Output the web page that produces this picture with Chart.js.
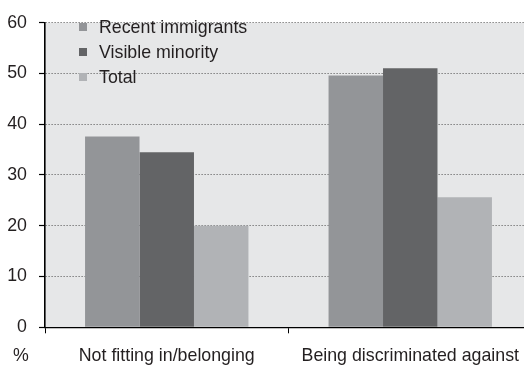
<!DOCTYPE html>
<html>
<head>
<meta charset="utf-8">
<script src="https://cdn.jsdelivr.net/npm/chart.js@4"></script>
<style>
	html, body { margin: 0; padding: 0; background: #fff; overflow: hidden; }
	canvas { display: block; }
</style>
</head>
<body>
<canvas id="chart" width="532" height="366"></canvas>
<script>
const categories = [ 'Not fitting in/belonging', 'Being discriminated against' ];
const recentImmigrants = [ 37.6, 49.6 ];
const visibleMinority = [ 34.5, 51.0 ];
const total = [ 20.0, 25.6 ];
const yTicks = [ 0, 10, 20, 30, 40, 50, 60 ];

const ink = '#231f20';
const fontFamily = '"Liberation Sans", Arial, sans-serif';
const fontSize = 17.8;

// light grey panel behind the bars
const plotBackground = {
	id: 'plotBackground',
	beforeDraw( chart ) {
		const { ctx, chartArea } = chart;
		ctx.save();
		ctx.fillStyle = '#e6e7e8';
		ctx.fillRect( chartArea.left, chartArea.top, chartArea.right - chartArea.left, chartArea.bottom - chartArea.top );
		ctx.restore();
	},
};

// legend sits inside the plot, top left; "%" unit goes under the y labels
const insideLegend = {
	id: 'insideLegend',
	afterDraw( chart ) {
		const { ctx } = chart;
		ctx.save();
		ctx.font = fontSize + 'px ' + fontFamily;
		ctx.textBaseline = 'middle';
		ctx.textAlign = 'left';
		chart.data.datasets.forEach( ( ds, i ) => {
			const y = 27 + i * 25;
			ctx.fillStyle = ds.backgroundColor;
			ctx.fillRect( 79, y - 4, 8, 8 );
			ctx.fillStyle = ink;
			ctx.fillText( ds.label, 99, y + 1 );
		} );
		ctx.textAlign = 'center';
		ctx.fillText( '%', 21, 356 );
		ctx.restore();
	},
};

new Chart( document.getElementById( 'chart' ).getContext( '2d' ), {
	type: 'bar',
	data: {
		labels: categories,
		datasets: [
			{ label: 'Recent immigrants', data: recentImmigrants, backgroundColor: '#939598' },
			{ label: 'Visible minority', data: visibleMinority, backgroundColor: '#636466' },
			{ label: 'Total', data: total, backgroundColor: '#b1b3b6' },
		],
	},
	options: {
		responsive: false,
		animation: false,
		layout: { padding: { top: 12.7, left: 0, right: 0, bottom: 0 } },
		datasets: {
			bar: { barPercentage: 1, categoryPercentage: 0.671, borderWidth: 0 },
		},
		plugins: {
			legend: { display: false },
			tooltip: { enabled: false },
		},
		scales: {
			x: {
				offset: true,
				grid: {
					offset: true,
					drawOnChartArea: false,
					drawTicks: true,
					tickLength: 6,
					tickColor: '#000',
					tickWidth: 1,
				},
				border: { display: true, color: '#000', width: 1.2 },
				ticks: {
					color: ink,
					padding: 12,
					maxRotation: 0,
					autoSkip: false,
					font: { family: fontFamily, size: fontSize },
				},
				afterFit( scale ) {
					scale.height = 38.7;
				},
			},
			y: {
				min: 0,
				max: 60,
				afterBuildTicks( scale ) {
					scale.ticks = yTicks.map( v => ( { value: v } ) );
				},
				grid: {
					color: '#4d4d4d',
					lineWidth: 1,
					drawTicks: true,
					tickLength: 6,
					tickColor: '#000',
					tickWidth: 1.2,
					tickBorderDash: [],
				},
				// in v4 the dash of the grid lines lives under border
				border: { display: true, color: '#000', width: 1.6, dash: [ 1, 2 ] },
				ticks: {
					color: ink,
					padding: 12,
					font: { family: fontFamily, size: fontSize },
				},
				afterFit( scale ) {
					scale.width = 45;
				},
			},
		},
	},
	plugins: [ plotBackground, insideLegend ],
} );
</script>
</body>
</html>
